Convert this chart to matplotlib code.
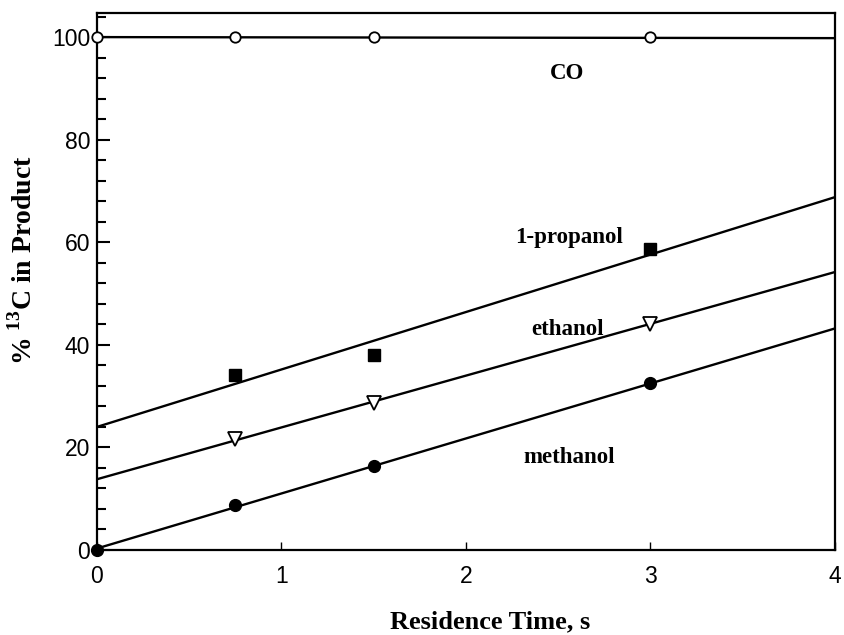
import matplotlib
matplotlib.use("Agg")
import matplotlib.pyplot as plt
from matplotlib.ticker import MultipleLocator

# ---- data ----
time_s = [0.0, 0.75, 1.5, 3.0]
co_pct = [100.0, 100.0, 100.0, 100.0]
time_alc = [0.0, 0.75, 1.5, 3.0]
methanol_pct = [0.0, 8.7, 16.4, 32.5]
time_c2 = [0.75, 1.5, 3.0]
ethanol_pct = [21.6, 28.6, 44.0]
propanol_pct = [34.2, 38.0, 58.7]

# fitted straight lines (values at x = 0 and x = 4)
fit_x = [0.0, 4.0]
co_fit = [100.0, 99.8]
methanol_fit = [0.3, 43.2]
ethanol_fit = [13.8, 54.2]
propanol_fit = [24.0, 68.8]

x_ticks = [0, 1, 2, 3, 4]
y_ticks = [0, 20, 40, 60, 80, 100]

plt.rcParams['mathtext.fontset'] = 'custom'
plt.rcParams['mathtext.rm'] = 'Liberation Serif:bold'
plt.rcParams['mathtext.bf'] = 'Liberation Serif:bold'

fig = plt.figure(figsize=(8.45, 6.35), dpi=100)
ax = fig.add_axes([97/845, 85/635, 738/845, 537/635])

lw = 1.7
for fy in (co_fit, methanol_fit, ethanol_fit, propanol_fit):
    ax.plot(fit_x, fy, color='black', lw=lw, solid_capstyle='butt')

ax.plot(time_s, co_pct, ls='none', marker='o', ms=7.5, mfc='white',
        mec='black', mew=1.3, clip_on=False, zorder=3)
ax.plot(time_alc, methanol_pct, ls='none', marker='o', ms=8.5, mfc='black',
        mec='black', clip_on=False, zorder=3)
ax.plot(time_c2, ethanol_pct, ls='none', marker='v', ms=9.5, mfc='white',
        mec='black', mew=1.3, clip_on=False, zorder=3)
ax.plot(time_c2, propanol_pct, ls='none', marker='s', ms=8.5, mfc='black',
        mec='black', clip_on=False, zorder=3)

serif = 'Liberation Serif'
tfs = 16.5
ax.text(2.55, 93.0, 'CO', family=serif, weight='bold', fontsize=tfs,
        ha='center', va='center')
ax.text(2.56, 61.0, '1-propanol', family=serif, weight='bold', fontsize=tfs,
        ha='center', va='center')
ax.text(2.55, 42.9, 'ethanol', family=serif, weight='bold', fontsize=tfs,
        ha='center', va='center')
ax.text(2.56, 18.1, 'methanol', family=serif, weight='bold', fontsize=tfs,
        ha='center', va='center')

ax.set_xlim(0, 4)
ax.set_ylim(0, 104.7)
ax.set_xticks(x_ticks)
ax.set_yticks(y_ticks)
ax.yaxis.set_minor_locator(MultipleLocator(4))

for s in ax.spines.values():
    s.set_linewidth(1.6)

ax.tick_params(axis='y', which='major', direction='in', length=9, width=1.5,
               pad=5, labelsize=16.5, right=False)
ax.tick_params(axis='y', which='minor', direction='in', length=6.5, width=1.5,
               right=False)
ax.tick_params(axis='x', which='major', direction='in', length=6, width=1.0,
               pad=11, labelsize=16.5, top=False)
for lab in ax.get_xticklabels() + ax.get_yticklabels():
    lab.set_family('Liberation Sans')

ax.set_xlabel('Residence Time, s', family=serif, weight='bold', fontsize=19,
              va='baseline')
ax.xaxis.set_label_coords(0.5325, -0.1465)
ax.set_ylabel('% $^{13}$C in Product', family=serif, weight='bold',
              fontsize=20, va='baseline')
ax.yaxis.set_label_coords(-0.088, 0.54)

fig.savefig('out.png', dpi=100)
